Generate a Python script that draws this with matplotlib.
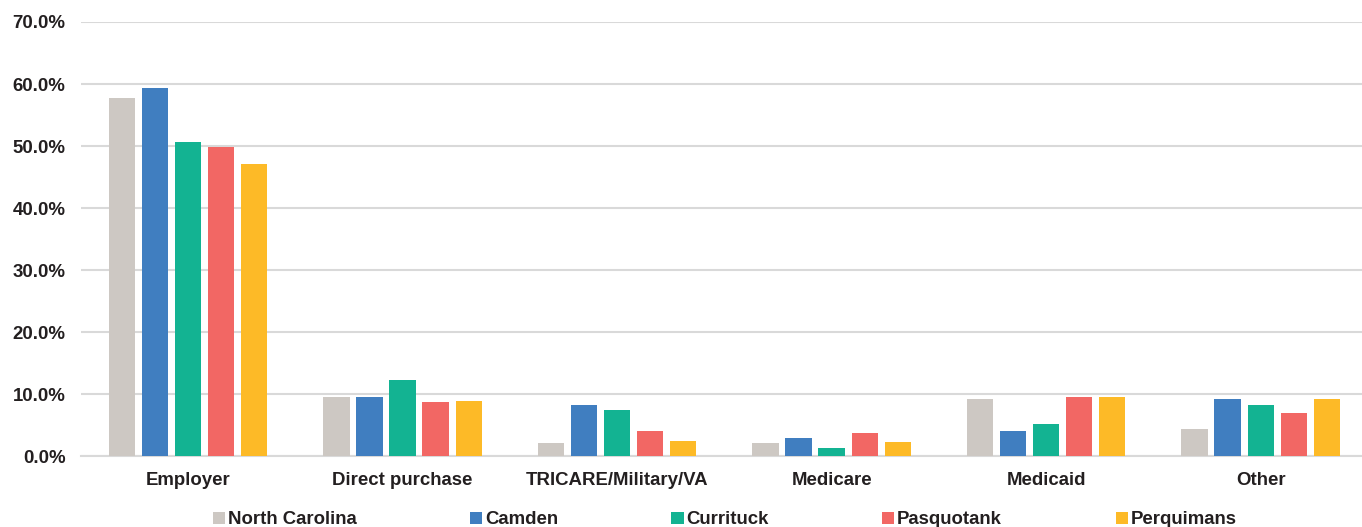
import matplotlib
matplotlib.use("Agg")
import matplotlib.pyplot as plt
import numpy as np
from matplotlib.ticker import PercentFormatter

# Health insurance coverage by type, share of population
categories = ["Employer", "Direct purchase", "TRICARE/Military/VA",
              "Medicare", "Medicaid", "Other"]
areas = ["North Carolina", "Camden", "Currituck", "Pasquotank", "Perquimans"]

north_carolina = [57.8, 9.6, 2.2, 2.1, 9.2, 4.5]
camden = [59.3, 9.6, 8.3, 2.9, 4.1, 9.2]
currituck = [50.7, 12.3, 7.5, 1.3, 5.2, 8.3]
pasquotank = [49.9, 8.8, 4.1, 3.8, 9.6, 7.0]
perquimans = [47.2, 9.0, 2.5, 2.3, 9.6, 9.3]

series = [north_carolina, camden, currituck, pasquotank, perquimans]
colors = ["#CDC8C3", "#407EC0", "#13B392", "#F26764", "#FDBA27"]

text_color = "#231F20"
grid_color = "#D9D9D9"
plt.rcParams["font.family"] = ["Liberation Sans", "DejaVu Sans"]
plt.rcParams["font.weight"] = "bold"

fig = plt.figure(figsize=(13.62, 5.27), dpi=100)
# plot area runs a little past the right edge of the canvas
ax = fig.add_axes([0.0593, 0.1338, 0.945, 0.8245])

x = np.arange(len(categories))
width = 0.122
step = 0.154
for i, (vals, name, col) in enumerate(zip(series, areas, colors)):
    ax.bar(x + (i - 2) * step, np.array(vals) / 100, width, color=col,
           label=name, zorder=3)

ax.set_xlim(-0.5, len(categories) - 0.5)
ax.set_ylim(0, 0.70)
ax.set_yticks(np.arange(0, 0.71, 0.10))
ax.yaxis.set_major_formatter(PercentFormatter(1.0, decimals=1))
ax.set_xticks(x)
ax.set_xticklabels(categories)
ax.grid(axis="y", color=grid_color, linewidth=1.5, zorder=0)
for s in ["top", "right", "left"]:
    ax.spines[s].set_visible(False)
ax.spines["bottom"].set_color(grid_color)
ax.spines["bottom"].set_linewidth(1.5)
ax.tick_params(axis="both", length=0, labelsize=13.4, colors=text_color)
ax.tick_params(axis="y", pad=11)
ax.tick_params(axis="x", pad=11.5)
for lbl in ax.get_xticklabels() + ax.get_yticklabels():
    lbl.set_fontweight("bold")

fig.legend(loc="center", bbox_to_anchor=(0.532, 0.0133), ncol=5,
           frameon=False, fontsize=13.4, handlelength=0.65, handleheight=0.65,
           handletextpad=0.15, columnspacing=6.1, labelcolor=text_color,
           borderpad=0, borderaxespad=0)

fig.savefig("out.png", dpi=100)
